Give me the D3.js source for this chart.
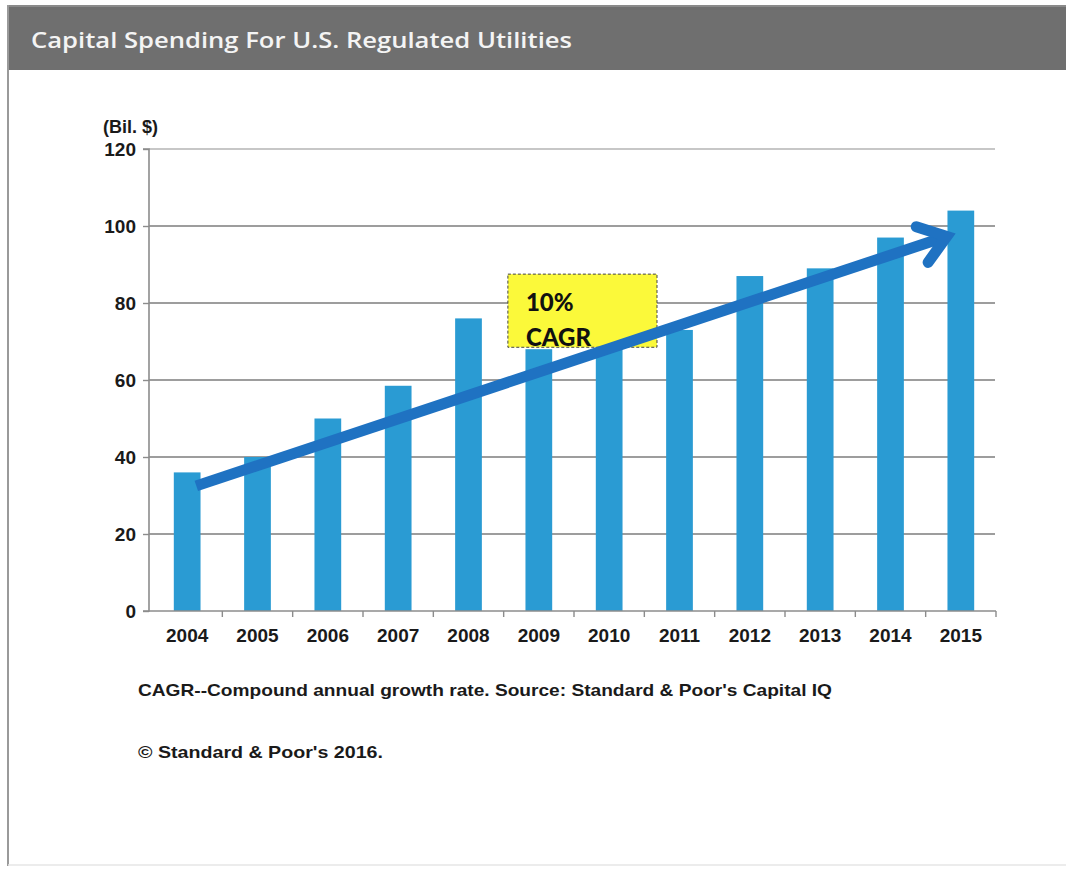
<!DOCTYPE html>
<html>
<head>
<meta charset="utf-8">
<script src="https://cdn.jsdelivr.net/npm/d3@7/dist/d3.min.js"></script>
<style>
  html, body { margin: 0; padding: 0; background: #fff; }
  svg { display: block; }
</style>
</head>
<body>
<svg id="chart" width="1066" height="869"></svg>
<script>
// ---- data ----
const title = "Capital Spending For U.S. Regulated Utilities";
const years = ["2004","2005","2006","2007","2008","2009","2010","2011","2012","2013","2014","2015"];
const spending = [36, 40, 50, 58.5, 76, 68, 69, 73, 87, 89, 97, 104];
const yTicks = [0, 20, 40, 60, 80, 100, 120];
const unitLabel = "(Bil. $)";
const cagrLines = ["10%", "CAGR"];
const trendStart = {year: "2004", value: 32.5};
const trendEnd = {year: "2015", value: 97.3};
const footnote = "CAGR--Compound  annual growth rate. Source: Standard & Poor's Capital IQ";
const copyright = "\u00A9 Standard & Poor's 2016.";

// ---- layout ----
const svg = d3.select("#chart");
const W = 1066, H = 869;
const plot = {left: 149, right: 996, top: 149, bottom: 611};

// frame
svg.append("line").attr("x1", 8).attr("x2", 8).attr("y1", 5).attr("y2", 866)
  .attr("stroke", "#9a9a9a").attr("stroke-width", 2);
svg.append("line").attr("x1", 8).attr("x2", W).attr("y1", 865).attr("y2", 865)
  .attr("stroke", "#e6e6e6").attr("stroke-width", 1.5);

// header
svg.append("rect").attr("x", 9).attr("y", 5).attr("width", W - 9).attr("height", 65)
  .attr("fill", "#6f6f6f");
svg.append("rect").attr("x", 9).attr("y", 5).attr("width", W - 9).attr("height", 2)
  .attr("fill", "#8a8a8a");
svg.append("text").attr("x", 31).attr("y", 48)
  .attr("font-family", "'Open Sans', 'DejaVu Sans', sans-serif")
  .attr("font-size", 21).attr("font-weight", 600).attr("fill", "#f4f4f4")
  .attr("textLength", 541).attr("lengthAdjust", "spacingAndGlyphs")
  .text(title);

// scales
const x = d3.scaleBand().domain(years).range([152, plot.right]).paddingInner(0.62).paddingOuter(0.31);
const y = d3.scaleLinear().domain([0, 120]).range([plot.bottom, plot.top]);

// gridlines
svg.append("g").selectAll("line").data(yTicks.filter(d => d > 0)).join("line")
  .attr("x1", plot.left).attr("x2", plot.right - 1)
  .attr("y1", d => y(d)).attr("y2", d => y(d))
  .attr("stroke", d => d === 120 ? "#b4b4b4" : "#7c7c7c").attr("stroke-width", 1.6);

// bars
svg.append("g").selectAll("rect").data(years).join("rect")
  .attr("x", d => x(d)).attr("width", x.bandwidth())
  .attr("y", (d, i) => y(spending[i]))
  .attr("height", (d, i) => y(0) - y(spending[i]))
  .attr("fill", "#2a9bd3");

// y axis
const yAxis = d3.axisLeft(y).tickValues(yTicks).tickSize(6).tickFormat(d3.format("d"));
const gy = svg.append("g").attr("transform", `translate(${plot.left},0)`).call(yAxis);
gy.select(".domain").attr("stroke", "#8c8c8c").attr("stroke-width", 1.6).attr("d", `M-6,${plot.top}H0V${plot.bottom}H-6`);
gy.selectAll(".tick line").attr("stroke", "#8c8c8c").attr("stroke-width", 1.4);
gy.selectAll(".tick text")
  .attr("x", -13).attr("dy", "0.36em")
  .attr("font-family", "'Liberation Sans', Arial, sans-serif")
  .attr("font-size", 19).attr("font-weight", "bold").attr("fill", "#1a1a1a");

// x axis
const xAxis = d3.axisBottom(x).tickSize(0).tickPadding(18);
const gx = svg.append("g").attr("transform", `translate(0,${plot.bottom})`).call(xAxis);
gx.select(".domain").attr("stroke", "#8c8c8c").attr("stroke-width", 1.6)
  .attr("d", `M${plot.left},0H${plot.right}`);
gx.selectAll(".tick text")
  .attr("font-family", "'Liberation Sans', Arial, sans-serif")
  .attr("font-size", 19).attr("font-weight", "bold").attr("fill", "#1a1a1a");
// category separator ticks
const step = x.step();
svg.append("g").selectAll("line").data(years).join("line")
  .attr("x1", d => x(d) + x.bandwidth() / 2 + step / 2)
  .attr("x2", d => x(d) + x.bandwidth() / 2 + step / 2)
  .attr("y1", plot.bottom).attr("y2", plot.bottom + 6)
  .attr("stroke", "#8c8c8c").attr("stroke-width", 1.4);

// unit label
svg.append("text").attr("x", 103).attr("y", 133)
  .attr("font-family", "'Liberation Sans', Arial, sans-serif")
  .attr("font-size", 18).attr("font-weight", "bold").attr("fill", "#1a1a1a")
  .text(unitLabel);

// CAGR box
const boxX0 = x("2009") - 0.25 * step, boxX1 = x("2010") + 0.87 * step;
const boxY0 = y(87.5), boxY1 = y(68.5);
svg.append("rect").attr("x", boxX0).attr("y", boxY0)
  .attr("width", boxX1 - boxX0).attr("height", boxY1 - boxY0)
  .attr("fill", "#fbf93a").attr("stroke", "#444").attr("stroke-width", 1)
  .attr("stroke-dasharray", "3,2");
svg.append("g").selectAll("text").data(cagrLines).join("text")
  .attr("x", boxX0 + 18)
  .attr("y", (d, i) => boxY0 + 37 + i * 35)
  .attr("font-family", "Lato, 'Open Sans', sans-serif")
  .attr("font-size", 24).attr("font-weight", 900).attr("fill", "#111")
  .text(d => d);

// trend arrow
const ax0 = x(trendStart.year) + x.bandwidth() / 2 + 0.13 * step, ay0 = y(trendStart.value);
const ax1 = x(trendEnd.year) + x.bandwidth() / 2 - 0.2 * step, ay1 = y(trendEnd.value);
const ang = Math.atan2(ay1 - ay0, ax1 - ax0);
const headLen = 32, headAng = Math.PI / 5;
const arrowColor = "#1f72c2";
svg.append("line").attr("x1", ax0).attr("y1", ay0)
  .attr("x2", ax1 - 6 * Math.cos(ang)).attr("y2", ay1 - 6 * Math.sin(ang))
  .attr("stroke", arrowColor).attr("stroke-width", 11);
svg.append("path")
  .attr("d", d3.line()([
    [ax1 - headLen * Math.cos(ang - headAng), ay1 - headLen * Math.sin(ang - headAng)],
    [ax1, ay1],
    [ax1 - headLen * Math.cos(ang + headAng), ay1 - headLen * Math.sin(ang + headAng)]
  ]))
  .attr("fill", "none").attr("stroke", arrowColor).attr("stroke-width", 11)
  .attr("stroke-linecap", "round").attr("stroke-linejoin", "miter");

// footnotes
svg.append("text").attr("x", 138).attr("y", 696)
  .attr("font-family", "'Liberation Sans', Arial, sans-serif")
  .attr("font-size", 17).attr("font-weight", "bold").attr("fill", "#1a1a1a")
  .attr("textLength", 694).attr("lengthAdjust", "spacingAndGlyphs")
  .text(footnote);
svg.append("text").attr("x", 138).attr("y", 758)
  .attr("font-family", "'Liberation Sans', Arial, sans-serif")
  .attr("font-size", 17).attr("font-weight", "bold").attr("fill", "#1a1a1a")
  .attr("textLength", 245).attr("lengthAdjust", "spacingAndGlyphs")
  .text(copyright);
</script>
</body>
</html>
